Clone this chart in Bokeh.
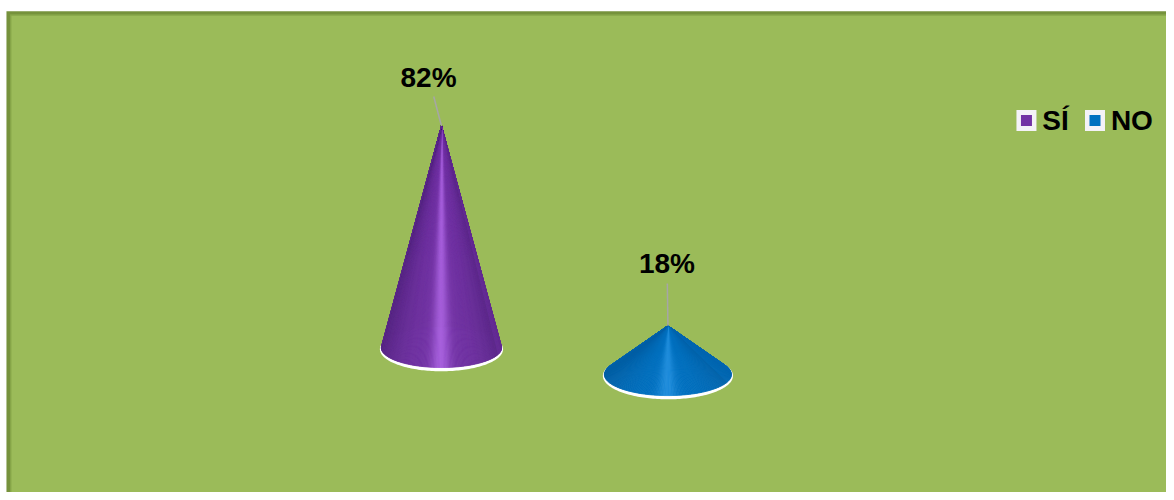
import numpy as np
from bokeh.plotting import figure
from bokeh.models import Range1d
from bokeh.embed import file_html
from bokeh.resources import INLINE
from bokeh.core.properties import value

# ---- data ----
categories = ["SÍ", "NO"]
values = [82, 18]
labels = ["82%", "18%"]
colors = ["#7232A5", "#0070C0"]
highlights = ["#A45DDA", "#1E8CDB"]
darks = ["#52247E", "#005A9E"]

# ---- layout (reference pixel coordinates) ----
W, H = 1166, 492
SX, SY = W / 1174.0, H / 500.0
def X(px):
    return np.asarray(px) * SX
def Y(py):
    return H - np.asarray(py) * SY

cone_cx = [444, 672]
cone_cy = [353, 380]
cone_rx = [60.5, 64]
cone_ry = [20, 21.5]
px_per_pct = 2.75
label_dx = [-13, -1]
label_gap = [49, 63]
leader_len = [30, 43]

p = figure(width=W, height=H, x_range=Range1d(0, W), y_range=Range1d(0, H),
           output_backend="svg", toolbar_location=None, min_border=0)
p.axis.visible = False
p.grid.visible = False
p.outline_line_color = None
p.background_fill_color = "white"
p.border_fill_color = "white"

# frame
p.quad(left=[X(6)], right=[X(1190)], top=[Y(11)], bottom=[Y(520)],
       fill_color="#76923C", line_color=None)
p.quad(left=[X(9.5)], right=[X(1190)], top=[Y(14)], bottom=[Y(520)],
       fill_color="#86A548", line_color=None)
p.quad(left=[X(11)], right=[X(1190)], top=[Y(15.5)], bottom=[Y(520)],
       fill_color="#9BBB59", line_color=None)

def hex2rgb(h):
    h = h.lstrip("#")
    return np.array([int(h[i:i + 2], 16) for i in (0, 2, 4)], dtype=float)

def rgb2hex(c):
    c = np.clip(np.round(c), 0, 255).astype(int)
    return "#%02x%02x%02x" % tuple(c)

for i, v in enumerate(values):
    cx, cy, rx, ry = cone_cx[i], cone_cy[i], cone_rx[i], cone_ry[i]
    h = v * px_per_pct
    ax, ay = cx, cy - h

    # white rim
    tt = np.linspace(0, 2 * np.pi, 200)
    p.patch(X(cx + (rx + 1.5) * np.cos(tt)), Y(cy + 1.4 + (ry + 2.4) * np.sin(tt)),
            fill_color="white", line_color=None)

    # tangent points from apex
    pp = -h / ry
    vv = 1.0 / pp
    uu = np.sqrt(1 - vv ** 2)
    t0 = np.arctan2(vv, uu)
    t1 = np.pi - t0
    N = 160
    ts = np.linspace(t0, t1, N + 1)
    base = hex2rgb(colors[i])
    hi = hex2rgb(highlights[i])
    dk = hex2rgb(darks[i])
    xs, ys, cols = [], [], []
    for j in range(N):
        tm = 0.5 * (ts[j] + ts[j + 1])
        u = np.cos(tm)
        light = np.exp(-((u + 0.02) / 0.16) ** 2)
        edge = min(1.0, abs(u) ** 2.5)
        c = base + light * (hi - base) + 0.8 * edge * (dk - base)
        if u > 0.93:
            c = c + (base - c) * 0.4
        col = rgb2hex(c)
        xs.append(list(X([ax, cx + rx * np.cos(ts[j]), cx + rx * np.cos(ts[j + 1])])))
        ys.append(list(Y([ay, cy + ry * np.sin(ts[j]), cy + ry * np.sin(ts[j + 1])])))
        cols.append(col)
    p.patches(xs, ys, fill_color=cols, line_color=cols, line_width=0.8)

    # leader line and label
    p.segment(x0=[X(ax + label_dx[i] * 0.6)], y0=[Y(ay - leader_len[i])],
              x1=[X(ax)], y1=[Y(ay)], line_color="#A6A6A6", line_width=1.5)
    p.text(x=[X(ax + label_dx[i])], y=[Y(ay - label_gap[i])], text=[labels[i]],
           text_font=value("Liberation Sans"), text_font_style="bold",
           text_font_size="28px", text_align="center", text_baseline="middle",
           text_color="black")

# legend
leg_box_x = [1033, 1102]
leg_text_x = [1049, 1118]
leg_y = 122
for i, cat in enumerate(categories):
    p.rect(x=[X(leg_box_x[i])], y=[Y(leg_y)], width=20, height=21,
           fill_color="#F4F2F8", line_color=None)
    p.rect(x=[X(leg_box_x[i])], y=[Y(leg_y)], width=11, height=11,
           fill_color=colors[i], line_color=None)
    p.text(x=[X(leg_text_x[i])], y=[Y(leg_y)], text=[cat],
           text_font=value("Liberation Sans"), text_font_style="bold",
           text_font_size="28px", text_align="left", text_baseline="middle",
           text_color="black")

open("out.html", "w").write(file_html(p, INLINE))
